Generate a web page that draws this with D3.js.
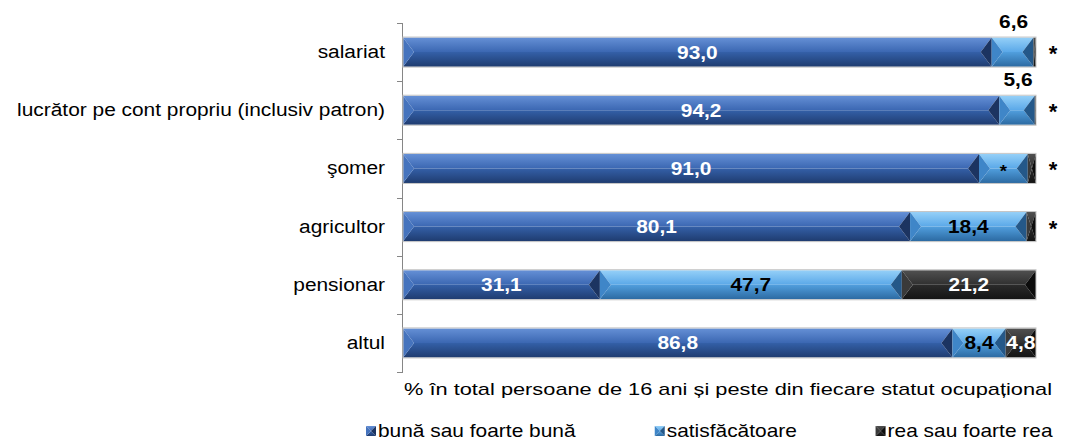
<!DOCTYPE html>
<html>
<head>
<meta charset="utf-8">
<script src="https://cdn.jsdelivr.net/npm/d3@7"></script>
<style>
  body { margin: 0; background: #fff; }
  svg { display: block; font-family: Arial, "Liberation Sans", sans-serif; }
</style>
</head>
<body>
<div id="chart"></div>
<script>
/* DATA */
const categories = ["salariat", "lucrător pe cont propriu (inclusiv patron)", "şomer", "agricultor", "pensionar", "altul"];
const buna = [93.0, 94.2, 91.0, 80.1, 31.1, 86.8];
const satisfacatoare = [6.6, 5.6, 7.7, 18.4, 47.7, 8.4];
const rea = [0.4, 0.2, 1.3, 1.5, 21.2, 4.8];

const bunaLabels = ["93,0", "94,2", "91,0", "80,1", "31,1", "86,8"];
const satisInside = ["", "", "*", "18,4", "47,7", "8,4"];
const satisAbove = ["6,6", "5,6", "", "", "", ""];
const reaLabels = ["", "", "", "", "21,2", "4,8"];
const outsideLabels = ["*", "*", "*", "*", "", ""];

const seriesNames = ["bună sau foarte bună", "satisfăcătoare", "rea sau foarte rea"];

/* CONSTANTS */
const width = 1067, height = 444;
const margin = { top: 23, left: 403, right: 31, bottom: 73 };
const stretch = 1.16; // the source font is drawn a little wider than Arial

// bevel palettes: top half, bottom half, left and right ends
const palettes = [
  { top: ["#6590d6", "#3b67b2"], bot: ["#3460a8", "#1f3c70"], left: "#4573bd", right: "#1c3461", text: "#fff" },
  { top: ["#95d0f8", "#5aa8e8"], bot: ["#519fde", "#2c6aa2"], left: "#3f86c8", right: "#245889", text: "#000" },
  { top: ["#505050", "#303030"], bot: ["#2b2b2b", "#141414"], left: "#3a3a3a", right: "#0c0c0c", text: "#fff" }
];

const svg = d3.select("#chart").append("svg")
  .attr("width", width)
  .attr("height", height);

const defs = svg.append("defs");
palettes.forEach((p, i) => {
  ["top", "bot"].forEach(k => {
    const g = defs.append("linearGradient")
      .attr("id", `g${i}${k}`)
      .attr("x1", 0).attr("y1", 0).attr("x2", 0).attr("y2", 1);
    g.append("stop").attr("offset", "0%").attr("stop-color", p[k][0]);
    g.append("stop").attr("offset", "100%").attr("stop-color", p[k][1]);
  });
});

// widen text like the original rendering
function widen(sel, f) {
  sel.each(function() {
    const n = this.getComputedTextLength();
    if (n > 0) d3.select(this).attr("textLength", n * f).attr("lengthAdjust", "spacingAndGlyphs");
  });
}

/* SCALES */
const xScale = d3.scaleLinear()
  .domain([0, 100])
  .range([margin.left, width - margin.right]);

const yScale = d3.scaleBand()
  .domain(categories)
  .range([margin.top, height - margin.bottom + 1])
  .paddingInner(0.5)
  .paddingOuter(0.25);

// stacked data
const rows = categories.map((c, i) => ({ cat: c, i, values: [buna[i], satisfacatoare[i], rea[i]] }));
const stack = d3.stack().keys([0, 1, 2]).value((d, k) => d.values[k]);
const layers = stack(rows);

/* AXIS */
const step = yScale.step();
const tickYs = d3.range(categories.length + 1).map(i => margin.top + i * step);
const axis = svg.append("g").attr("class", "axis");
axis.append("line")
  .attr("x1", margin.left - 0.5).attr("x2", margin.left - 0.5)
  .attr("y1", margin.top).attr("y2", tickYs[tickYs.length - 1])
  .attr("stroke", "#868686");
axis.selectAll(".tick")
  .data(tickYs)
  .join("line")
  .attr("class", "tick")
  .attr("x1", margin.left - 6).attr("x2", margin.left)
  .attr("y1", d => Math.round(d) + 0.5).attr("y2", d => Math.round(d) + 0.5)
  .attr("stroke", "#868686");

axis.selectAll(".cat")
  .data(categories)
  .join("text")
  .attr("class", "cat")
  .attr("x", margin.left - 18)
  .attr("y", d => yScale(d) + yScale.bandwidth() / 2 + 6)
  .attr("text-anchor", "end")
  .attr("font-size", 18)
  .text(d => d)
  .call(widen, stretch);

/* BARS */
function bevel(g, x0, x1, y0, y1, k) {
  const w = x1 - x0;
  if (w <= 0) return;
  const ym = (y0 + y1) / 2;
  const b = Math.min(11, w / 2);
  const p = palettes[k];
  g.append("polygon")
    .attr("points", [[x0, y0], [x1, y0], [x1 - b, ym], [x0 + b, ym]].join(" "))
    .attr("fill", `url(#g${k}top)`);
  g.append("polygon")
    .attr("points", [[x0, y1], [x1, y1], [x1 - b, ym], [x0 + b, ym]].join(" "))
    .attr("fill", `url(#g${k}bot)`);
  g.append("polygon")
    .attr("points", [[x0, y0], [x0 + b, ym], [x0, y1]].join(" "))
    .attr("fill", p.left);
  g.append("polygon")
    .attr("points", [[x1, y0], [x1 - b, ym], [x1, y1]].join(" "))
    .attr("fill", p.right);
}

const bars = svg.append("g").attr("class", "bars");
layers.forEach((layer, k) => {
  layer.forEach(d => {
    const y0 = yScale(d.data.cat);
    const y1 = y0 + yScale.bandwidth();
    bevel(bars.append("g"), xScale(d[0]), xScale(d[1]), y0, y1, k);
  });
});

// thin outline round each row
bars.selectAll(".outline")
  .data(rows)
  .join("rect")
  .attr("class", "outline")
  .attr("x", xScale(0))
  .attr("y", d => yScale(d.cat) - 0.5)
  .attr("width", d => xScale(d3.sum(d.values)) - xScale(0))
  .attr("height", yScale.bandwidth() + 1)
  .attr("fill", "none")
  .attr("stroke", "#c4c4c4")
  .attr("stroke-width", 1);

/* LABELS */
const labelSets = [bunaLabels, satisInside, reaLabels];
const labels = svg.append("g").attr("class", "labels")
  .attr("font-weight", "bold")
  .attr("text-anchor", "middle");

layers.forEach((layer, k) => {
  labels.selectAll(`.lab${k}`)
    .data(layer.filter(d => labelSets[k][d.data.i] !== ""))
    .join("text")
    .attr("class", `lab${k}`)
    .attr("x", d => xScale((d[0] + d[1]) / 2))
    .attr("y", d => yScale(d.data.cat) + yScale.bandwidth() / 2 + (labelSets[k][d.data.i] === "*" ? 9 : 6.5))
    .attr("font-size", d => labelSets[k][d.data.i] === "*" ? 16 : 18)
    .attr("fill", palettes[k].text)
    .text(d => labelSets[k][d.data.i])
    .call(widen, stretch);
});

labels.selectAll(".above")
  .data(layers[1].filter(d => satisAbove[d.data.i] !== ""))
  .join("text")
  .attr("class", "above")
  .attr("x", d => xScale((d[0] + d[1]) / 2) + 1)
  .attr("y", d => yScale(d.data.cat) - 10)
  .attr("font-size", 18)
  .attr("fill", "#000")
  .text(d => satisAbove[d.data.i])
  .call(widen, stretch);

labels.selectAll(".outside")
  .data(rows.filter(d => outsideLabels[d.i] !== ""))
  .join("text")
  .attr("class", "outside")
  .attr("x", d => xScale(100) + 17)
  .attr("y", d => yScale(d.cat) + yScale.bandwidth() / 2 + 9)
  .attr("font-size", 22)
  .attr("fill", "#000")
  .text(d => outsideLabels[d.i]);

/* AXIS TITLE */
svg.append("text")
  .attr("x", 404)
  .attr("y", 395)
  .attr("font-size", 17)
  .attr("textLength", 648)
  .attr("lengthAdjust", "spacingAndGlyphs")
  .text("% în total persoane de 16 ani și peste din fiecare statut ocupațional");

/* LEGEND */
// entries are spread across the legend box, as in the original
const legendLeft = 366, legendRight = 1053;
const legend = svg.append("g").attr("class", "legend");
const items = seriesNames.map((name, k) => {
  const g = legend.append("g");
  bevel(g, 0, 10, 0, 10, k);
  g.append("text")
    .attr("x", 12)
    .attr("y", 11)
    .attr("font-size", 19)
    .text(name)
    .call(widen, 1.1);
  return g;
});
const itemW = items.map(g => g.node().getBBox().width);
const gap = (legendRight - legendLeft - d3.sum(itemW)) / (items.length - 1);
let cx = legendLeft;
items.forEach((g, k) => {
  g.attr("transform", `translate(${cx},426)`);
  cx += itemW[k] + gap;
});
</script>
</body>
</html>
